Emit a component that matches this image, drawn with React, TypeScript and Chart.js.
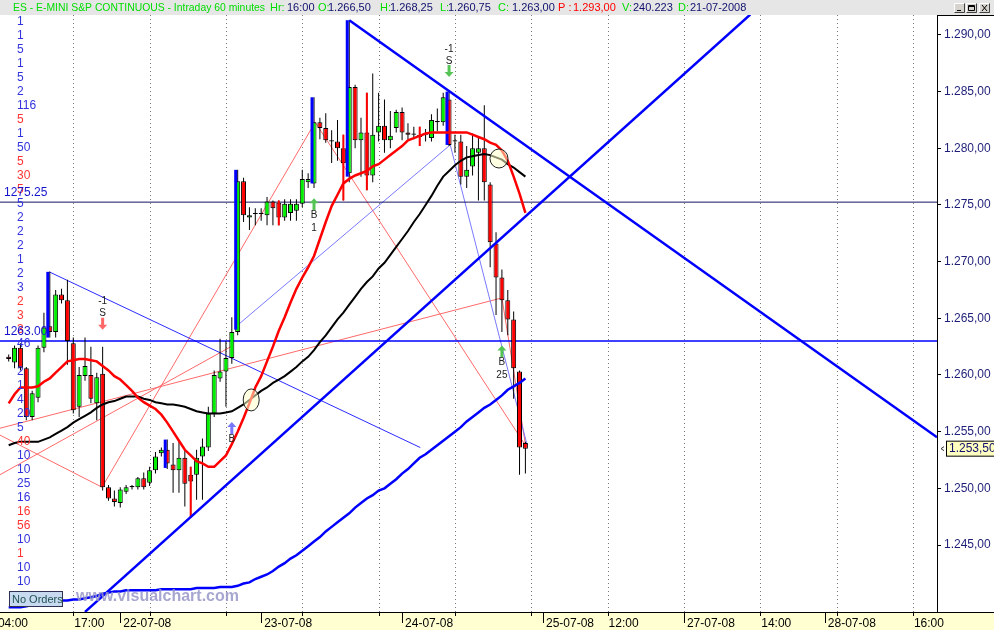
import React, { useEffect, useRef } from 'react';
import { Chart, registerables } from 'chart.js';

Chart.register(...registerables);

// ---------------- DATA ----------------
const CANDLE_OPEN = [
  1261.6, 1261.1, 1262.4, 1260.6, 1256.3, 1258.0, 1262.4, 1264.3, 1263.8, 1267.1,
  1266.6, 1262.8, 1257.2, 1259.9, 1260.0, 1257.5, 1260.1, 1250.1, 1249.1, 1248.7,
  1249.7, 1250.1, 1250.1, 1250.9, 1250.5, 1251.6, 1253.1, 1253.4, 1252.1, 1251.6,
  1252.7, 1251.2, 1251.2, 1252.8, 1253.6, 1256.6, 1259.7, 1260.3, 1261.5, 1263.8,
  1277.1, 1273.9, 1274.2, 1274.2, 1274.1, 1275.3, 1275.2, 1273.9, 1274.3, 1274.5,
  1275.1, 1277.0, 1276.9, 1282.3, 1281.8, 1280.6, 1280.6, 1280.0, 1277.8, 1285.4,
  1280.7, 1281.4, 1277.6, 1281.4, 1282.0, 1280.7, 1281.8, 1283.2, 1281.4, 1281.2,
  1281.2, 1281.2, 1280.9, 1282.3, 1282.3, 1284.3, 1280.6, 1280.6, 1277.5, 1278.4,
  1279.6, 1280.0, 1276.8, 1271.6, 1268.6, 1266.6, 1264.9, 1260.3, 1254.0,
];
const CANDLE_HIGH = [
  1261.8, 1262.6, 1262.8, 1260.7, 1258.6, 1262.6, 1265.5, 1269.1, 1267.5, 1267.6,
  1268.4, 1263.3, 1260.7, 1263.3, 1262.5, 1260.2, 1262.5, 1250.3, 1249.8, 1250.1,
  1250.3, 1250.3, 1251.0, 1251.4, 1251.9, 1253.2, 1253.6, 1254.3, 1254.0, 1254.1,
  1253.4, 1251.9, 1253.4, 1254.4, 1257.2, 1260.4, 1263.2, 1263.0, 1265.1, 1278.1,
  1277.4, 1274.8, 1274.7, 1274.7, 1275.7, 1275.4, 1275.4, 1275.5, 1275.5, 1275.5,
  1278.1, 1277.8, 1284.5, 1282.7, 1283.1, 1281.6, 1282.5, 1281.2, 1291.3, 1285.6,
  1282.7, 1284.9, 1286.6, 1284.9, 1284.3, 1283.3, 1283.4, 1283.6, 1282.2, 1281.9,
  1281.9, 1281.7, 1283.0, 1283.5, 1284.9, 1285.0, 1281.2, 1281.2, 1280.2, 1281.3,
  1281.0, 1283.8, 1277.0, 1272.6, 1269.3, 1267.5, 1265.6, 1260.4, 1254.1,
];
const CANDLE_LOW = [
  1261.2, 1260.6, 1260.4, 1256.0, 1256.0, 1257.6, 1262.0, 1263.3, 1263.3, 1266.3,
  1260.9, 1256.6, 1256.3, 1259.5, 1257.5, 1256.0, 1249.8, 1248.9, 1248.4, 1248.3,
  1249.5, 1249.9, 1249.9, 1249.9, 1250.2, 1251.3, 1252.8, 1251.7, 1249.6, 1249.6,
  1248.4, 1247.4, 1249.0, 1249.0, 1253.3, 1256.3, 1259.4, 1257.2, 1261.0, 1263.5,
  1273.5, 1272.8, 1273.2, 1273.6, 1273.2, 1273.2, 1273.2, 1273.6, 1273.6, 1273.6,
  1274.8, 1276.5, 1276.5, 1280.8, 1280.5, 1278.7, 1278.9, 1275.4, 1277.0, 1280.0,
  1277.5, 1276.3, 1277.0, 1280.6, 1279.6, 1280.0, 1281.4, 1280.7, 1280.8, 1280.8,
  1280.2, 1280.6, 1280.6, 1281.5, 1282.0, 1280.2, 1279.6, 1276.8, 1276.5, 1277.6,
  1275.4, 1275.4, 1269.5, 1265.3, 1263.8, 1263.5, 1257.9, 1251.2, 1251.3,
];
const CANDLE_CLOSE = [
  1261.4, 1262.4, 1260.6, 1256.3, 1258.4, 1262.4, 1264.2, 1263.8, 1267.1, 1266.6,
  1263.0, 1256.9, 1260.0, 1260.8, 1257.9, 1259.8, 1250.1, 1249.1, 1248.8, 1249.9,
  1250.1, 1250.2, 1250.9, 1250.1, 1251.6, 1252.8, 1253.4, 1252.2, 1251.6, 1252.7,
  1250.4, 1250.6, 1252.7, 1253.7, 1256.6, 1260.0, 1260.3, 1261.5, 1263.8, 1277.1,
  1274.1, 1274.1, 1274.3, 1274.3, 1275.3, 1274.7, 1273.9, 1275.1, 1275.1, 1275.1,
  1277.3, 1277.3, 1282.3, 1281.8, 1280.7, 1280.7, 1280.0, 1278.7, 1285.4, 1280.7,
  1281.4, 1277.6, 1281.2, 1282.0, 1280.7, 1281.1, 1283.2, 1281.4, 1281.2, 1281.3,
  1281.0, 1281.3, 1282.5, 1282.4, 1284.5, 1280.3, 1280.7, 1277.5, 1278.1, 1280.0,
  1280.0, 1277.0, 1271.7, 1268.6, 1266.6, 1264.9, 1260.6, 1253.6, 1253.5,
];
const RED_MA = [
  1257.5, 1258.3, 1258.9, 1258.9, 1258.9, 1259.0, 1259.4, 1259.7, 1260.2, 1260.7,
  1261.2, 1261.3, 1261.4, 1261.4, 1261.3, 1261.2, 1260.8, 1260.4, 1259.9, 1259.6,
  1259.1, 1258.6, 1258.0, 1257.6, 1257.3, 1257.0, 1256.5, 1255.8, 1255.0, 1254.2,
  1253.4, 1252.9, 1252.4, 1252.2, 1251.9, 1251.9, 1252.4, 1252.9, 1253.9, 1255.0,
  1256.2, 1257.5, 1258.9, 1259.9, 1261.2, 1262.5, 1263.9, 1265.1, 1266.4, 1267.6,
  1268.6, 1269.5, 1270.5, 1272.0, 1273.5, 1274.9, 1275.9, 1276.9, 1277.3, 1277.6,
  1277.8, 1278.0, 1278.4, 1278.6, 1279.0, 1279.4, 1279.8, 1280.2, 1280.7, 1280.9,
  1281.1, 1281.3, 1281.4, 1281.4, 1281.4, 1281.4, 1281.4, 1281.4, 1281.4, 1281.2,
  1281.0, 1280.8, 1280.5, 1280.3, 1279.8, 1278.9, 1277.5, 1276.0, 1274.3,
];
const BLACK_MA = [
  1253.8, 1254.0, 1254.1, 1254.1, 1254.1, 1254.1, 1254.3, 1254.5, 1254.8, 1255.1,
  1255.4, 1255.8, 1256.1, 1256.4, 1256.7, 1257.1, 1257.4, 1257.6, 1257.7, 1257.9,
  1258.1, 1258.1, 1258.1, 1257.9, 1257.8, 1257.6, 1257.5, 1257.4, 1257.4, 1257.3,
  1257.2, 1257.0, 1256.8, 1256.7, 1256.6, 1256.6, 1256.6, 1256.7, 1256.8, 1257.1,
  1257.4, 1257.8, 1258.2, 1258.6, 1258.9, 1259.3, 1259.6, 1259.9, 1260.3, 1260.7,
  1261.2, 1261.6, 1262.2, 1262.9, 1263.5, 1264.2, 1264.9, 1265.5, 1266.2, 1266.9,
  1267.6, 1268.2, 1268.7, 1269.4, 1269.9, 1270.6, 1271.3, 1272.0, 1272.7, 1273.5,
  1274.2, 1275.0, 1275.8, 1276.7, 1277.5, 1278.0, 1278.5, 1278.9, 1279.2, 1279.3,
  1279.4, 1279.5, 1279.4, 1279.2, 1279.0, 1278.6, 1278.3, 1277.9, 1277.5,
];
const BLUE_MA = [
  1239.5, 1239.5, 1239.5, 1239.6, 1239.7, 1239.8, 1239.9, 1240.0, 1240.0, 1240.1,
  1240.1, 1240.2, 1240.2, 1240.3, 1240.4, 1240.5, 1240.7, 1240.8, 1240.9, 1240.9,
  1241.0, 1241.0, 1241.0, 1241.0, 1241.0, 1241.0, 1241.1, 1241.1, 1241.1, 1241.1,
  1241.1, 1241.1, 1241.2, 1241.2, 1241.2, 1241.2, 1241.3, 1241.3, 1241.3, 1241.4,
  1241.6, 1241.7, 1242.0, 1242.2, 1242.4, 1242.7, 1243.1, 1243.4, 1243.8, 1244.1,
  1244.5, 1244.9, 1245.3, 1245.7, 1246.2, 1246.6, 1247.0, 1247.4, 1247.8, 1248.3,
  1248.7, 1249.1, 1249.4, 1249.8, 1250.0, 1250.4, 1250.8, 1251.3, 1251.7, 1252.2,
  1252.7, 1253.0, 1253.4, 1253.8, 1254.2, 1254.6, 1255.0, 1255.4, 1255.9, 1256.3,
  1256.7, 1257.1, 1257.4, 1257.8, 1258.2, 1258.7, 1259.0, 1259.3, 1259.7,
];

const BLUE_PIVOT_BARS = [7, 27, 39, 52, 58, 75];
const BLUE_PIVOT_LOW = [1263.3, 1251.8, 1264.0, 1276.9, 1277.5, 1280.3];
const BLUE_PIVOT_HIGH = [1269.1, 1254.3, 1278.1, 1284.5, 1291.3, 1285.0];
const RED_PIVOT_BARS = [31, 46, 57, 61, 70];
const RED_PIVOT_LOW = [1247.4, 1273.2, 1275.4, 1276.3, 1280.2];
const RED_PIVOT_HIGH = [1251.9, 1275.4, 1281.2, 1284.9, 1281.9];

// trend lines: [[bar, price], [bar, price]]
const UP_TREND = [[13.0, 1239.1], [126.3, 1291.8]];
const DOWN_TREND = [[58.0, 1291.3], [158.1, 1254.5]];
const THIN_BLUE_LINES = [
  [[6.9, 1269.1], [70.1, 1253.6]],
  [[39.0, 1264.4], [75.2, 1280.3]],
  [[75.2, 1280.3], [88.3, 1253.8]],
];
const THIN_RED_LINES = [
  [[15.9, 1250.1], [52.2, 1282.3]],
  [[52.2, 1282.3], [88.0, 1253.8]],
  [[-1.5, 1254.7], [15.9, 1250.1]],
  [[-1.5, 1255.3], [84.0, 1266.8]],
  [[-1.5, 1251.2], [38.2, 1262.6]],
  [[84.0, 1266.8], [88.0, 1253.9]],
];
const LEVELS = [1275.25, 1263.0];
const LEVEL_TEXT = ['1275.25', '1263.00'];

const CIRCLE_BARS = [41.3, 83.5];
const CIRCLE_PRICES = [1257.8, 1279.1];

const SIGNAL_BARS = [16, 38, 52, 75, 84];
const SIGNAL_PRICES = [1264.0, 1255.85, 1275.6, 1286.3, 1262.6];
const SIGNAL_DIRS = ['down', 'up', 'up', 'down', 'up'];
const SIGNAL_TEXTS = [['-1', 'S'], ['B'], ['B', '1'], ['-1', 'S'], ['B', '25']];

const Y_TICKS = [1245, 1250, 1255, 1260, 1265, 1270, 1275, 1280, 1285, 1290];
const Y_MIN = 1239.09;
const Y_MAX = 1291.76;
const X_MIN = -1.48;
const X_MAX = 158.1;
const LAST_PRICE = 1253.5;

const GRID_BARS = [11, 24, 37, 50, 63, 76, 89, 102, 115, 128, 141, 154];
const DAY_BARS = [19, 43, 67, 91, 115, 139];
const TIME_LABELS = ['04:00', '17:00', '22-07-08', '23-07-08', '24-07-08', '25-07-08', '12:00', '27-07-08', '14:00', '28-07-08', '16:00'];
const TIME_LABEL_BARS = [-2, 11, 19, 43, 67, 91, 102, 115, 128, 139, 154];

const LEFT_VALUES = ['1', '1', '5', '1', '5', '2', '116', '5', '1', '50', '5', '30', '5', '5', '2', '2', '2', '1', '2', '3', '2', '3', '3', '46', '', '2', '1', '4', '20', '5', '40', '10', '10', '25', '16', '16', '56', '10', '1', '10', '10'];
const LEFT_RED_ROWS = [7, 10, 11, 12, 20, 21, 22, 30, 35, 36, 38];

// ---------------- STYLE / HELPERS ----------------
const FONT = '"Liberation Sans", Arial, Helvetica, sans-serif';
const BARS = CANDLE_OPEN.map((_, i) => i);

function fmtPrice(v: number): string {
  const [a, b] = v.toFixed(2).split('.');
  return a.replace(/\B(?=(\d{3})+(?!\d))/g, '.') + ',' + b;
}
function candleColor(i: number): string {
  const d = CANDLE_CLOSE[i] - CANDLE_OPEN[i];
  if (d > 0.15) return '#00f000';
  if (d < -0.15) return '#ff0000';
  return '#000000';
}
const seg = (s: number[][]) => s.map(([x, y]) => ({ x, y }));

function drawArrow(ctx: CanvasRenderingContext2D, x: number, tip: number, dir: string, color: string) {
  const s = dir === 'up' ? 1 : -1;
  ctx.fillStyle = color;
  ctx.beginPath();
  ctx.moveTo(x, tip);
  ctx.lineTo(x + 4.5, tip + s * 5);
  ctx.lineTo(x + 1.5, tip + s * 5);
  ctx.lineTo(x + 1.5, tip + s * 12);
  ctx.lineTo(x - 1.5, tip + s * 12);
  ctx.lineTo(x - 1.5, tip + s * 5);
  ctx.lineTo(x - 4.5, tip + s * 5);
  ctx.closePath();
  ctx.fill();
}

const decor = {
  id: 'decor',
  beforeDraw(chart: any) {
    const { ctx } = chart;
    ctx.save();
    ctx.fillStyle = '#ffffff';
    ctx.fillRect(0, 0, chart.width, chart.height);
    ctx.restore();
  },
  beforeDatasetsDraw(chart: any) {
    const { ctx, chartArea: a, scales } = chart;
    const x = scales.x;
    ctx.save();
    ctx.strokeStyle = '#7a7a7a';
    ctx.lineWidth = 1;
    ctx.setLineDash([1, 3]);
    GRID_BARS.forEach((b) => {
      const px = Math.round(x.getPixelForValue(b)) + 0.5;
      ctx.beginPath();
      ctx.moveTo(px, a.top);
      ctx.lineTo(px, a.bottom);
      ctx.stroke();
    });
    ctx.restore();
  },
  afterDatasetsDraw(chart: any) {
    const { ctx, scales } = chart;
    const x = scales.x, y = scales.y;
    ctx.save();
    CIRCLE_BARS.forEach((b, k) => {
      const cx = x.getPixelForValue(b), cy = y.getPixelForValue(CIRCLE_PRICES[k]);
      ctx.beginPath();
      ctx.ellipse(cx, cy, k === 0 ? 8 : 9, k === 0 ? 11 : 9.5, 0, 0, Math.PI * 2);
      ctx.fillStyle = 'rgba(255,255,200,0.55)';
      ctx.fill();
      ctx.strokeStyle = '#222';
      ctx.lineWidth = 1;
      ctx.stroke();
    });
    ctx.font = `10px ${FONT}`;
    ctx.textAlign = 'center';
    ctx.textBaseline = 'middle';
    SIGNAL_BARS.forEach((b, k) => {
      const px = x.getPixelForValue(b);
      const tip = y.getPixelForValue(SIGNAL_PRICES[k]);
      const color = k === 0 ? '#ff6666' : k === 1 ? '#7777ff' : '#55c455';
      drawArrow(ctx, px, tip, SIGNAL_DIRS[k], color);
      ctx.fillStyle = '#222';
      const t = SIGNAL_TEXTS[k];
      if (SIGNAL_DIRS[k] === 'down') {
        ctx.fillText(t[1], px, tip - 16);
        ctx.fillText(t[0], px, tip - 28);
      } else {
        ctx.fillText(t[0], px, tip + 17);
        if (t[1]) ctx.fillText(t[1], px, tip + 30);
      }
    });
    ctx.font = `12px ${FONT}`;
    ctx.textAlign = 'left';
    LEFT_VALUES.forEach((v, r) => {
      if (!v) return;
      ctx.fillStyle = LEFT_RED_ROWS.includes(r) ? '#ff3333' : '#3333dd';
      ctx.fillText(v, 17, 22 + 14 * r);
    });
    ctx.fillStyle = '#1414cc';
    LEVELS.forEach((lv, k) => {
      ctx.fillText(LEVEL_TEXT[k], 4, y.getPixelForValue(lv) - 9);
    });
    ctx.restore();
  },
  afterDraw(chart: any) {
    const { ctx, chartArea: a, scales } = chart;
    const x = scales.x, y = scales.y;
    const W = chart.width, H = chart.height;
    ctx.save();
    // title bar
    ctx.fillStyle = '#e6e6e6';
    ctx.fillRect(0, 0, W, a.top);
    ctx.font = `11px ${FONT}`;
    ctx.textBaseline = 'middle';
    ctx.textAlign = 'left';
    const G = '#00dd00', N = '#10106e', R = '#ff0000';
    const parts: [string, number, string][] = [
      ['Hr:', 270, G], ['16:00', 287, N], ['O:', 318, G], ['1.266,50', 328, N],
      ['H:', 380, G], ['1.268,25', 390, N], ['L:', 440, G], ['1.260,75', 448, N],
      ['C:', 498, G], ['1.263,00', 512, N], ['P :', 558, R], ['1.293,00', 573, R],
      ['V:', 622, G], ['240.223', 633, N], ['D:', 678, G], ['21-07-2008', 690, N],
    ];
    ctx.fillStyle = G;
    ctx.fillText('ES - E-MINI S&P CONTINUOUS - Intraday 60 minutes', 13, 7.5, 252);
    parts.forEach(([t, px, c]) => { ctx.fillStyle = c; ctx.fillText(t, px, 7.5); });
    // window buttons
    [954, 966, 979].forEach((bx, k) => {
      ctx.fillStyle = '#d6d3ce';
      ctx.fillRect(bx, 3, 11, 10);
      ctx.strokeStyle = '#fff';
      ctx.lineWidth = 1;
      ctx.beginPath(); ctx.moveTo(bx + 0.5, 12.5); ctx.lineTo(bx + 0.5, 3.5); ctx.lineTo(bx + 10.5, 3.5); ctx.stroke();
      ctx.strokeStyle = '#404040';
      ctx.beginPath(); ctx.moveTo(bx + 10.5, 3.5); ctx.lineTo(bx + 10.5, 12.5); ctx.lineTo(bx + 0.5, 12.5); ctx.stroke();
      ctx.strokeStyle = '#000';
      ctx.beginPath();
      if (k === 0) { ctx.moveTo(bx + 3, 10.5); ctx.lineTo(bx + 7, 10.5); }
      else if (k === 1) { ctx.rect(bx + 2.5, 5.5, 6, 5); ctx.moveTo(bx + 2.5, 6.5); ctx.lineTo(bx + 8.5, 6.5); }
      else { ctx.moveTo(bx + 3, 5); ctx.lineTo(bx + 8, 11); ctx.moveTo(bx + 8, 5); ctx.lineTo(bx + 3, 11); }
      ctx.stroke();
    });
    // right panel top border
    ctx.strokeStyle = '#000';
    ctx.beginPath();
    ctx.moveTo(a.right, a.top + 0.5); ctx.lineTo(W, a.top + 0.5);
    ctx.stroke();
    // bottom axis
    ctx.fillStyle = '#ffffd2';
    ctx.fillRect(0, a.bottom + 1, W, H - a.bottom - 1);
    ctx.strokeStyle = '#000';
    ctx.beginPath();
    ctx.moveTo(0, a.bottom + 0.5); ctx.lineTo(W, a.bottom + 0.5);
    GRID_BARS.forEach((b) => {
      const px = Math.round(x.getPixelForValue(b)) + 0.5;
      ctx.moveTo(px, a.bottom); ctx.lineTo(px, a.bottom + 4);
    });
    DAY_BARS.forEach((b) => {
      const px = Math.round(x.getPixelForValue(b)) + 0.5;
      ctx.moveTo(px, a.bottom); ctx.lineTo(px, a.bottom + 11);
    });
    ctx.stroke();
    ctx.fillStyle = '#000';
    ctx.font = `12px ${FONT}`;
    ctx.textBaseline = 'middle';
    TIME_LABELS.forEach((t, k) => {
      const b = TIME_LABEL_BARS[k];
      const px = x.getPixelForValue(b);
      const isDay = DAY_BARS.includes(b) && t.includes('-');
      ctx.fillText(t, px + (isDay ? 3 : 1), a.bottom + 12);
    });
    // last price tag
    const py = y.getPixelForValue(LAST_PRICE);
    ctx.fillStyle = '#ffffc0';
    ctx.fillRect(946.5, py - 7.5, 48, 15);
    ctx.strokeStyle = '#000';
    ctx.strokeRect(946.5, py - 7.5, 48, 15);
    ctx.fillStyle = '#10106e';
    ctx.fillText(fmtPrice(LAST_PRICE), 949, py + 0.5);
    ctx.beginPath();
    ctx.moveTo(944, py - 2); ctx.lineTo(941, py); ctx.lineTo(944, py + 2);
    ctx.strokeStyle = '#333';
    ctx.stroke();
    // watermark
    ctx.font = `bold 16px ${FONT}`;
    ctx.fillStyle = 'rgba(150,150,200,0.85)';
    ctx.fillText('www.visualchart.com', 76, 597);
    // no orders box
    ctx.fillStyle = '#c8daf0';
    ctx.fillRect(9.5, 591.5, 53, 15);
    ctx.strokeStyle = '#303050';
    ctx.strokeRect(9.5, 591.5, 53, 15);
    ctx.fillStyle = '#1e5050';
    ctx.font = `11px ${FONT}`;
    ctx.fillText('No Orders', 12, 599.5);
    ctx.restore();
  },
};

function buildDatasets(): any[] {
  const ds: any[] = [];
  THIN_RED_LINES.forEach((s) => ds.push({ type: 'line', data: seg(s), borderColor: '#ff6a6a', borderWidth: 1, pointRadius: 0, order: 120 }));
  THIN_BLUE_LINES.forEach((s, k) => ds.push({ type: 'line', data: seg(s), borderColor: k === 0 ? '#2a2aff' : '#7a7aff', borderWidth: 1, pointRadius: 0, order: 110 }));
  ds.push({ type: 'line', data: [{ x: X_MIN, y: LEVELS[0] }, { x: X_MAX, y: LEVELS[0] }], borderColor: '#141460', borderWidth: 1, pointRadius: 0, order: 100 });
  ds.push({ type: 'line', data: [{ x: X_MIN, y: LEVELS[1] }, { x: X_MAX, y: LEVELS[1] }], borderColor: '#0000ff', borderWidth: 1.5, pointRadius: 0, order: 100 });
  ds.push({
    type: 'bar', data: BARS.map((i) => ({ x: i, y: [CANDLE_LOW[i], CANDLE_HIGH[i]] })),
    backgroundColor: '#000', barThickness: 1, grouped: false, inflateAmount: 0, minBarLength: 1, order: 80,
  });
  ds.push({
    type: 'bar', data: BARS.map((i) => ({ x: i, y: [CANDLE_OPEN[i], CANDLE_CLOSE[i]] })),
    backgroundColor: BARS.map(candleColor), borderColor: '#000', borderWidth: 1, borderSkipped: false,
    barThickness: 5, grouped: false, inflateAmount: 0, minBarLength: 1, order: 70,
  });
  ds.push({
    type: 'bar', data: BLUE_PIVOT_BARS.map((b, k) => ({ x: b - 0.34, y: [BLUE_PIVOT_LOW[k], BLUE_PIVOT_HIGH[k]] })),
    backgroundColor: '#0000ff', barThickness: 3, grouped: false, inflateAmount: 0, order: 60,
  });
  ds.push({
    type: 'bar', data: RED_PIVOT_BARS.map((b, k) => ({ x: b, y: [RED_PIVOT_LOW[k], RED_PIVOT_HIGH[k]] })),
    backgroundColor: '#ff0000', barThickness: 2, grouped: false, inflateAmount: 0, order: 60,
  });
  ds.push({ type: 'line', data: BARS.map((i) => ({ x: i, y: BLUE_MA[i] })), borderColor: '#0000ff', borderWidth: 2.5, pointRadius: 0, order: 30 });
  ds.push({ type: 'line', data: BARS.map((i) => ({ x: i, y: BLACK_MA[i] })), borderColor: '#000000', borderWidth: 2, pointRadius: 0, order: 28 });
  ds.push({ type: 'line', data: BARS.map((i) => ({ x: i, y: RED_MA[i] })), borderColor: '#ff0000', borderWidth: 2.5, pointRadius: 0, order: 26 });
  ds.push({ type: 'line', data: seg(UP_TREND), borderColor: '#0000ff', borderWidth: 2.5, pointRadius: 0, order: 20 });
  ds.push({ type: 'line', data: seg(DOWN_TREND), borderColor: '#0000ff', borderWidth: 2.5, pointRadius: 0, order: 20 });
  return ds;
}

export default function App() {
  const ref = useRef<HTMLCanvasElement>(null);
  useEffect(() => {
    document.body.style.margin = '0';
    const chart = new Chart(ref.current as HTMLCanvasElement, {
      type: 'bar',
      data: { datasets: buildDatasets() },
      plugins: [decor],
      options: {
        responsive: false,
        animation: false,
        devicePixelRatio: 1,
        events: [],
        layout: { padding: { top: 15, bottom: 18, left: 0, right: 0 } },
        plugins: { legend: { display: false }, tooltip: { enabled: false } },
        scales: {
          x: { type: 'linear', min: X_MIN, max: X_MAX, display: false, offset: false },
          y: {
            type: 'linear', position: 'right', min: Y_MIN, max: Y_MAX,
            afterBuildTicks: (s: any) => { s.ticks = Y_TICKS.map((v) => ({ value: v })); },
            afterFit: (s: any) => { s.width = 57; },
            ticks: { color: '#1e1e78', font: { family: FONT, size: 12 }, padding: 3, autoSkip: false, callback: (v: any) => fmtPrice(Number(v)) },
            grid: { drawOnChartArea: false, drawTicks: true, tickLength: 4, color: '#000' },
            border: { display: true, color: '#000', width: 1 },
          },
        },
      } as any,
    });
    return () => chart.destroy();
  }, []);
  return (
    <div style={{ width: 994, height: 630 }}>
      <canvas ref={ref} width={994} height={630} style={{ display: 'block', width: 994, height: 630 }} />
    </div>
  );
}
